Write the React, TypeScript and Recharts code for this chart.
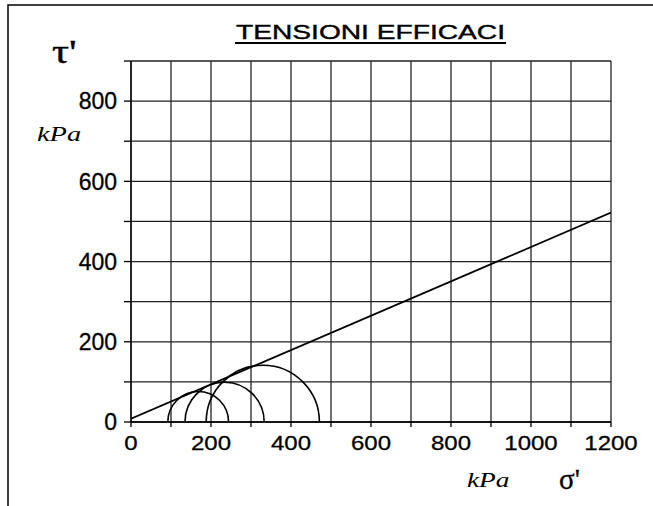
import React from "react";
import {
  ComposedChart,
  Line,
  XAxis,
  YAxis,
  CartesianGrid,
  ReferenceArea,
} from "recharts";

// effective stresses (kPa)
const sigma3 = [92, 135, 188];
const sigma1 = [244, 333, 471];

// failure envelope end points
const envSigma = [0, 1200];
const envTau = [8, 522];

const xTicks = [0, 100, 200, 300, 400, 500, 600, 700, 800, 900, 1000, 1100, 1200];
const yTicks = [0, 100, 200, 300, 400, 500, 600, 700, 800, 900];

const envelope = envSigma.map((s, i) => ({ s, t: envTau[i] }));
const circles = sigma3.map((a, i) => ({ left: a, right: sigma1[i], r: (sigma1[i] - a) / 2 }));

const SANS = "Liberation Sans, Arial, sans-serif";
const SERIF = "Times New Roman, Liberation Serif, DejaVu Serif, serif";

const XTick = (props: any) => {
  const { x, y, payload } = props;
  if (payload.value % 200 !== 0) return <g />;
  return (
    <g transform={`translate(${x},${y}) scale(1.2,1)`}>
      <text x={0} y={0} dy="0.71em" textAnchor="middle" fontFamily={SANS} fontSize={20} fill="#000" stroke="#000" strokeWidth={0.3}>
        {payload.value}
      </text>
    </g>
  );
};

const YTick = (props: any) => {
  const { x, y, payload } = props;
  if (payload.value % 200 !== 0 || payload.value > 800) return <g />;
  return (
    <text x={x} y={y} dy="0.36em" textAnchor="end" fontFamily={SANS} fontSize={23} fill="#000" stroke="#000" strokeWidth={0.3}>
      {payload.value}
    </text>
  );
};

// half circle drawn inside the box the reference area gets from the scales
const HalfCircle = (props: any) => {
  const { x, y, width, height } = props;
  const base = y + height;
  const d = `M ${x} ${base} A ${width / 2} ${height} 0 0 1 ${x + width} ${base}`;
  return <path d={d} fill="none" stroke="#000" strokeWidth={1.6} />;
};

export default function App() {
  return (
    <div style={{ position: "absolute", left: 0, top: 0, width: 653, height: 506, background: "#fff" }}>
      <ComposedChart width={653} height={506} margin={{ top: 61, right: 42, left: 0, bottom: 54 }}>
        <CartesianGrid stroke="#222" strokeWidth={1.3} />
        <XAxis
          type="number"
          dataKey="s"
          domain={[0, 1200]}
          ticks={xTicks}
          interval={0}
          height={30}
          tickSize={5}
          tickMargin={9}
          tick={<XTick />}
          stroke="#000"
          strokeWidth={1.3}
          allowDataOverflow
        />
        <YAxis
          type="number"
          domain={[0, 900]}
          ticks={yTicks}
          interval={0}
          width={131}
          tickSize={7}
          tickMargin={7}
          tick={<YTick />}
          stroke="#000"
          strokeWidth={1.3}
          allowDataOverflow
        />
        {circles.map((c, i) => (
          <ReferenceArea
            key={i}
            x1={c.left}
            x2={c.right}
            y1={0}
            y2={c.r}
            ifOverflow="visible"
            shape={<HalfCircle />}
          />
        ))}
        <Line
          data={envelope}
          dataKey="t"
          type="linear"
          stroke="#000"
          strokeWidth={1.8}
          dot={false}
          isAnimationActive={false}
        />
      </ComposedChart>
      <svg
        width={653}
        height={506}
        style={{ position: "absolute", left: 0, top: 0, pointerEvents: "none" }}
      >
        <polyline points="8,520 8,5 660,5" fill="none" stroke="#000" strokeWidth={1.5} />
        <text x={236} y={39} fontFamily={SANS} fontSize={20} textLength={269} lengthAdjust="spacingAndGlyphs" fill="#000" stroke="#000" strokeWidth={0.4}>
          TENSIONI EFFICACI
        </text>
        <line x1={235} y1={43} x2={506} y2={43} stroke="#000" strokeWidth={2} />
        <g transform="translate(52,63) scale(1.25,1)">
          <text x={0} y={0} fontFamily={SERIF} fontSize={34} fill="#000" stroke="#000" strokeWidth={0.4}>
            τ'
          </text>
        </g>
        <g transform="translate(37,141) scale(1.35,1)">
          <text x={0} y={0} fontFamily={SERIF} fontStyle="italic" fontSize={21} fill="#000">
            kPa
          </text>
        </g>
        <g transform="translate(467,487) scale(1.3,1)">
          <text x={0} y={0} fontFamily={SERIF} fontStyle="italic" fontSize={21} fill="#000">
            kPa
          </text>
        </g>
        <text x={559} y={489} fontFamily={SERIF} fontSize={29} fill="#000" stroke="#000" strokeWidth={0.3}>
          σ'
        </text>
      </svg>
    </div>
  );
}
